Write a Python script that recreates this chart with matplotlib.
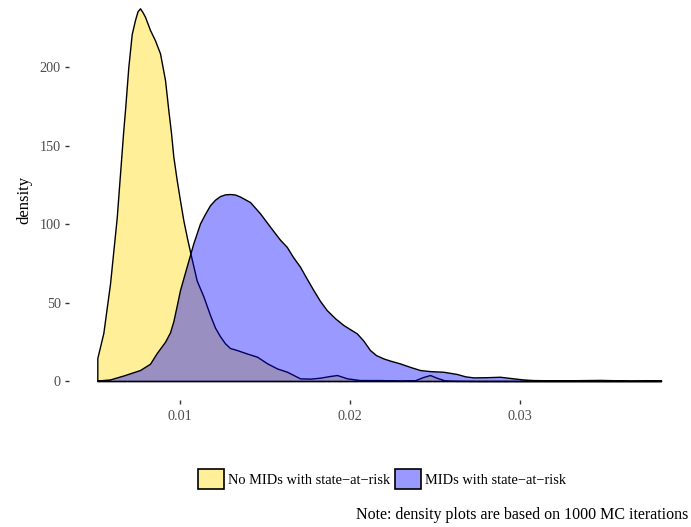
import matplotlib
matplotlib.use('Agg')
import matplotlib.pyplot as plt
from matplotlib.patches import Patch

plt.rcParams['font.family'] = ['Liberation Serif', 'DejaVu Serif']

# density estimates over the MC draws (x = predicted probability)
x_no = [0.005135, 0.005488, 0.005882, 0.006276, 0.006665, 0.006765, 0.006959,
        0.007159, 0.007353, 0.007500, 0.007647, 0.007794, 0.007941, 0.008235,
        0.008529, 0.008824, 0.009118, 0.009312, 0.009471, 0.009606, 0.009806,
        0.010000, 0.010194, 0.010412, 0.010647, 0.010982, 0.011371, 0.011765,
        0.012059, 0.012353, 0.012647, 0.012941, 0.013353, 0.013941, 0.014529,
        0.015118, 0.015706, 0.016294, 0.017059, 0.017647, 0.018235, 0.018824,
        0.019235, 0.019824, 0.020588, 0.021765, 0.022941, 0.023824, 0.024294,
        0.024706, 0.025118, 0.025588, 0.026176, 0.027647, 0.038294]
d_no = [14.6, 30.5, 62, 104, 160, 172.6, 200,
        221, 230, 235.5, 237.4, 235, 232, 223.6,
        217, 208.7, 191.7, 172.6, 158, 143, 128,
        115, 102.5, 91, 79.6, 64, 54, 42,
        34, 28.5, 24, 21, 19.7, 17.5, 15.5,
        11.3, 8, 5.9, 1.7, 1.5, 2.1, 3.2,
        3.8, 1.7, 0.6, 0.6, 0.3, 0.5, 2.5,
        3.8, 2.0, 0.3, 0.1, 0.0, 0.0]

x_mid = [0.005135, 0.005882, 0.006665, 0.007647, 0.008235, 0.008629, 0.009118,
         0.009412, 0.009606, 0.009806, 0.010000, 0.010394, 0.010782, 0.011176,
         0.011471, 0.011765, 0.012059, 0.012353, 0.012647, 0.012941, 0.013235,
         0.013529, 0.014118, 0.014706, 0.015294, 0.015882, 0.016276, 0.016647,
         0.017059, 0.017412, 0.017841, 0.018235, 0.018629, 0.019118, 0.019606,
         0.020000, 0.020394, 0.020765, 0.021176, 0.021529, 0.021959, 0.022353,
         0.022941, 0.023529, 0.024118, 0.024706, 0.025488, 0.026276, 0.026765,
         0.027253, 0.027941, 0.028824, 0.029606, 0.030176, 0.030765, 0.032353,
         0.034706, 0.036471, 0.038294]
d_mid = [0.3, 1.0, 3.5, 7, 11, 17.8, 25,
         31, 38, 48, 58, 73, 87.7, 100.4,
         106.5, 112, 115.5, 117.8, 118.9, 119.1, 118.8,
         117.5, 114, 106.8, 98.3, 90, 85.5, 79,
         72.8, 66, 58, 51, 45.2, 40, 35.7,
         33, 30.4, 26, 19.7, 16.5, 14.4, 13,
         11.2, 9, 7, 6.3, 5.9, 4.5, 3,
         2.3, 2.4, 2.7, 1.7, 1.0, 0.6, 0.4,
         0.7, 0.3, 0.5]

labels = ['No MIDs with state\u2212at\u2212risk', 'MIDs with state\u2212at\u2212risk']
fills = [(1.0, 0.843, 0.0, 0.4), (0.0, 0.0, 1.0, 0.4)]

fig = plt.figure(figsize=(6.91, 5.27), dpi=100)
ax = fig.add_axes([69 / 691, 127 / 527, 620 / 691, 400 / 527])

ax.fill_between(x_no, d_no, 0, facecolor=fills[0], edgecolor='black',
                linewidth=1.0, joinstyle='round')
ax.fill_between(x_mid, d_mid, 0, facecolor=fills[1], edgecolor='black',
                linewidth=1.0, joinstyle='round')

ax.set_xlim(0.00347, 0.03994)
ax.set_ylim(-12.1, 242.7)
ax.set_xticks([0.01, 0.02, 0.03])
ax.set_xticklabels(['0.01', '0.02', '0.03'])
ax.set_yticks([0, 50, 100, 150, 200])
ax.set_yticklabels(['0', '50', '100', '150', '200'])
for s in ax.spines.values():
    s.set_visible(False)
ax.tick_params(length=3, width=1.0, color='#333333', labelcolor='#4D4D4D',
               labelsize=10.3, pad=3)
ax.tick_params(axis='x', pad=4)
ax.set_ylabel('density', fontsize=12, labelpad=5)

handles = [Patch(facecolor=fills[i], edgecolor='black', linewidth=1.2) for i in range(2)]
fig.legend(handles, labels, loc='center', bbox_to_anchor=(382 / 691, 1 - 479 / 527),
           ncol=2, frameon=False, fontsize=10.4, handlelength=1.8, handleheight=1.8,
           handletextpad=0.3, columnspacing=0.3, borderpad=0)

fig.text(688 / 691, 1 - 515 / 527, 'Note: density plots are based on 1000 MC iterations',
         ha='right', va='center', fontsize=11.5)

fig.savefig('out.png', dpi=100)
